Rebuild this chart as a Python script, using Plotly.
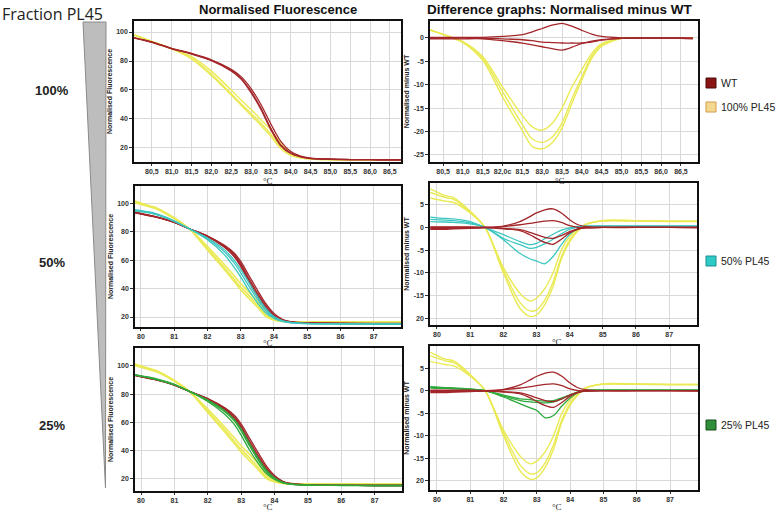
import plotly.graph_objects as go

W, H = 778, 513

# temperature grids (°C)
t_top = [80.05, 80.5, 81.0, 81.5, 82.0, 82.5, 82.75, 83.0, 83.25, 83.5,
         83.75, 84.0, 84.25, 84.5, 85.0, 85.5, 86.0, 86.5, 86.8]
t_low = [79.8, 80.25, 80.5, 81.0, 81.45, 82.0, 82.5, 82.8, 83.0, 83.25,
         83.5, 83.75, 84.0, 84.25, 84.5, 85.0, 86.0, 87.0, 87.85]

# --- top row: WT vs 100% PL45 ---
wt_top = [
    [96.0, 93.0, 88.5, 85.0, 80.5, 73.5, 68.0, 59.0, 47.5, 33.5, 22.0, 16.5, 14.0, 12.8, 12.2, 12.0, 11.9, 11.8, 11.8],
    [96.2, 93.2, 88.7, 85.2, 80.8, 74.2, 69.2, 61.0, 50.0, 36.5, 24.5, 17.5, 14.4, 13.0, 12.3, 12.0, 11.9, 11.8, 11.8],
    [95.8, 92.9, 88.4, 84.8, 80.3, 73.2, 67.6, 58.2, 46.5, 32.5, 21.5, 16.2, 13.9, 12.7, 12.2, 12.0, 11.9, 11.8, 11.8],
]
pl100_top = [
    [98.0, 93.5, 88.6, 83.0, 73.0, 60.0, 53.0, 46.5, 39.5, 32.5, 23.0, 16.5, 13.8, 12.6, 12.0, 11.8, 11.7, 11.6, 11.6],
    [98.2, 93.6, 88.4, 82.0, 71.0, 57.5, 50.5, 44.0, 37.0, 29.5, 21.0, 15.5, 13.3, 12.4, 12.0, 11.8, 11.7, 11.6, 11.6],
    [97.8, 93.3, 88.3, 81.5, 70.0, 56.5, 49.5, 42.5, 35.5, 28.0, 19.5, 14.8, 13.0, 12.3, 11.9, 11.7, 11.6, 11.6, 11.6],
]
wt_top_diff = [
    [0.1, 0.1, 0.1, 0.1, 0.3, 0.7, 1.3, 2.0, 2.7, 3.1, 2.5, 1.6, 0.8, 0.3, 0.0, 0.0, 0.0, 0.0, 0.0],
    [-0.2, -0.2, -0.2, -0.2, -0.6, -1.1, -1.5, -1.9, -2.3, -2.6, -2.0, -1.2, -0.7, -0.4, -0.1, -0.1, -0.1, -0.1, -0.2],
    [-0.1, -0.1, 0.0, -0.1, -0.2, -0.4, -0.6, -0.9, -1.0, -1.1, -1.1, -1.1, -0.9, -0.5, -0.1, 0.0, 0.0, 0.0, -0.1],
]
pl100_top_diff = [
    [2.0, 0.8, -0.8, -4.0, -10.5, -16.6, -19.0, -19.7, -18.3, -15.0, -10.5, -6.8, -3.3, -1.2, -0.1, 0.0, 0.0, 0.0, 0.0],
    [2.0, 0.7, -0.9, -4.4, -11.5, -18.5, -21.6, -22.3, -21.2, -18.2, -13.0, -8.3, -3.9, -1.5, -0.1, 0.0, 0.0, 0.0, 0.0],
    [2.0, 0.7, -1.0, -4.8, -12.6, -19.8, -23.2, -23.7, -22.4, -19.2, -14.0, -9.0, -4.4, -1.8, -0.1, 0.0, 0.0, 0.0, 0.0],
]

# --- middle / bottom rows: WT and 100% PL45 controls ---
wt_low = [
    [93.5, 91.3, 90.0, 86.5, 82.0, 76.8, 70.0, 64.0, 57.5, 47.0, 37.0, 28.0, 21.5, 18.0, 16.6, 15.8, 15.5, 15.4, 15.4],
    [93.3, 91.1, 89.8, 86.4, 82.0, 76.5, 69.2, 62.5, 55.5, 44.5, 34.5, 26.0, 20.5, 17.6, 16.4, 15.7, 15.5, 15.4, 15.4],
    [93.7, 91.5, 90.1, 86.6, 82.0, 76.9, 70.5, 65.0, 59.0, 49.0, 39.0, 29.5, 22.5, 18.4, 16.8, 15.9, 15.6, 15.5, 15.5],
    [93.4, 91.2, 89.9, 86.5, 82.0, 76.6, 69.5, 63.0, 56.5, 45.5, 35.5, 27.0, 21.0, 17.8, 16.5, 15.8, 15.5, 15.4, 15.4],
]
pl100_low = [
    [101.5, 98.2, 96.3, 89.7, 82.0, 69.5, 57.0, 49.0, 43.5, 37.5, 31.0, 23.0, 18.8, 17.3, 16.7, 16.5, 16.4, 16.4, 16.4],
    [101.0, 97.8, 95.9, 89.4, 82.0, 68.0, 55.0, 46.5, 41.0, 35.0, 28.5, 21.5, 18.2, 17.0, 16.6, 16.4, 16.4, 16.3, 16.3],
    [100.4, 97.4, 95.5, 89.1, 82.0, 67.0, 53.5, 45.0, 39.0, 33.0, 27.0, 20.5, 17.8, 16.9, 16.5, 16.4, 16.3, 16.3, 16.3],
]
wt_low_diff = [
    [0.0, 0.0, 0.0, 0.0, 0.0, 0.3, 1.3, 2.4, 3.2, 3.9, 4.1, 3.2, 1.7, 0.6, 0.2, 0.0, 0.0, 0.0, 0.0],
    [0.1, 0.1, 0.1, 0.1, 0.0, 0.2, 0.6, 0.9, 1.1, 1.4, 1.5, 1.1, 0.4, 0.0, -0.1, 0.0, 0.0, 0.0, 0.0],
    [-0.2, -0.2, -0.2, -0.1, 0.0, -0.2, -0.5, -1.1, -1.6, -2.2, -2.4, -1.8, -0.9, -0.3, 0.0, 0.0, 0.0, 0.0, 0.0],
    [-0.4, -0.4, -0.3, -0.2, -0.1, -0.3, -0.7, -1.6, -2.4, -3.3, -3.7, -2.6, -1.2, -0.4, -0.1, 0.0, 0.0, 0.0, -0.1],
]
pl100_low_diff = [
    [8.5, 7.0, 6.6, 3.6, 0.0, -8.8, -14.5, -16.2, -15.6, -13.5, -10.0, -5.0, -2.0, -0.3, 0.8, 1.4, 1.4, 1.3, 1.3],
    [7.7, 6.6, 6.2, 3.4, 0.0, -9.4, -16.5, -18.4, -18.2, -16.0, -12.0, -6.5, -2.8, -0.6, 0.7, 1.5, 1.5, 1.4, 1.4],
    [6.5, 5.8, 5.5, 3.2, 0.0, -10.0, -17.8, -19.6, -19.3, -17.0, -13.0, -7.0, -3.2, -0.8, 0.6, 1.5, 1.5, 1.4, 1.4],
]

# --- 50% PL45 ---
pl50 = [
    [95.5, 93.8, 92.2, 87.6, 82.0, 75.5, 67.5, 60.0, 53.5, 44.0, 34.5, 26.0, 20.3, 17.5, 16.3, 15.5, 15.2, 15.2, 15.2],
    [95.0, 93.4, 91.9, 87.4, 82.0, 75.0, 66.0, 58.0, 51.0, 41.5, 32.5, 24.5, 19.6, 17.2, 16.1, 15.4, 15.2, 15.1, 15.1],
    [94.6, 93.1, 91.6, 87.2, 82.0, 74.2, 64.0, 55.0, 48.0, 38.5, 30.0, 23.0, 19.0, 16.9, 16.0, 15.3, 15.1, 15.0, 15.0],
]
pl50_diff = [
    [2.3, 2.0, 1.9, 1.3, 0.0, -1.6, -3.1, -3.8, -3.5, -2.5, -1.5, -0.6, -0.1, 0.2, 0.3, 0.3, 0.3, 0.3, 0.3],
    [1.8, 1.6, 1.5, 1.0, 0.0, -2.4, -3.8, -4.6, -4.4, -3.6, -2.6, -1.4, -0.4, 0.1, 0.3, 0.3, 0.3, 0.3, 0.3],
    [1.3, 1.2, 1.1, 0.8, 0.0, -2.7, -5.7, -6.9, -7.4, -8.0, -6.4, -3.8, -1.5, -0.2, 0.2, 0.3, 0.3, 0.3, 0.3],
]

# --- 25% PL45 ---
pl25 = [
    [94.0, 92.0, 90.6, 86.9, 82.0, 75.8, 68.5, 62.0, 55.5, 45.0, 35.0, 26.5, 20.8, 17.7, 16.4, 15.7, 15.5, 15.4, 15.4],
    [93.8, 91.8, 90.4, 86.8, 82.0, 75.5, 67.8, 61.0, 54.0, 43.5, 33.8, 25.5, 20.3, 17.5, 16.3, 15.7, 15.5, 15.4, 15.4],
    [93.6, 91.6, 90.2, 86.7, 82.0, 74.8, 66.0, 58.5, 51.0, 40.5, 31.5, 24.0, 19.6, 17.2, 16.2, 15.6, 15.4, 15.3, 15.3],
]
pl25_diff = [
    [0.9, 0.7, 0.6, 0.4, 0.0, -1.0, -1.8, -2.0, -2.2, -2.3, -2.2, -1.6, -0.9, -0.2, 0.1, 0.1, 0.1, 0.1, 0.1],
    [0.8, 0.6, 0.5, 0.3, 0.0, -1.2, -2.2, -2.5, -2.6, -2.7, -2.5, -1.8, -1.0, -0.3, 0.1, 0.1, 0.1, 0.1, 0.1],
    [0.6, 0.5, 0.4, 0.3, 0.0, -1.4, -2.9, -3.8, -4.4, -6.0, -5.5, -3.4, -1.6, -0.4, 0.0, 0.1, 0.1, 0.1, 0.1],
]

# tick labels
top_ticks = [80.5, 81.0, 81.5, 82.0, 82.5, 83.0, 83.5, 84.0, 84.5, 85.0, 85.5, 86.0, 86.5]
top_left_text = ['80,5', '81,0', '81,5', '82,0', '82,5', '83,0', '83,5',
                 '84,0', '84,5', '85,0', '85,5', '86,0', '86,5']
top_right_text = ['80,5', '81,0', '81,5', '82,0c', '81,5', '83,0', '83,5',
                  '84,0', '84,5', '85,0', '85,5', '86,0', '86,5']
low_ticks = [80, 81, 82, 83, 84, 85, 86, 87]
fluo_ticks = [20, 40, 60, 80, 100]
diff_top_ticks = [0, -5, -10, -15, -20, -25]
diff_low_ticks = [5, 0, -5, -10, -15, -20]
diff_low_text = ['5', '0', '-5', '-10', '-15', '20']

row_labels = ['100%', '50%', '25%']
legend_labels = ['WT', '100% PL45', '50% PL45', '25% PL45']

WT_C = '#a3262a'
Y_C = '#eaea55'
CY_C = '#3cc6c0'
GR_C = '#2ea83a'

TICK_FONT = dict(family='Liberation Sans', size=7, color='#333333', weight='bold')


def pxx(v):
    return v / W


def pxy(v):
    return 1 - v / H


def add_panel(fig, n, box, xr, yr, xt, xtt, yt, ytt, ytitle):
    x0, x1, y0, y1 = box
    sfx = '' if n == 1 else str(n)
    fig.update_layout(**{
        'xaxis' + sfx: dict(domain=[pxx(x0), pxx(x1)], range=xr, anchor='y' + sfx,
                            tickvals=xt, ticktext=xtt, tickfont=TICK_FONT, tickangle=0,
                            ticks='outside', ticklen=2, tickcolor='#333',
                            showgrid=True, gridcolor='#d9d9d9', gridwidth=1,
                            showline=True, mirror=True, linecolor='#111', linewidth=1.5,
                            zeroline=False, automargin=False),
        'yaxis' + sfx: dict(domain=[pxy(y1), pxy(y0)], range=yr, anchor='x' + sfx,
                            tickvals=yt, ticktext=ytt, tickfont=TICK_FONT,
                            ticks='outside', ticklen=3, tickcolor='#333',
                            showgrid=True, gridcolor='#d9d9d9', gridwidth=1,
                            showline=True, mirror=True, linecolor='#111', linewidth=1.5,
                            zeroline=False, automargin=False,
                            title=dict(text=ytitle, standoff=3,
                                       font=dict(family='Liberation Sans', size=7, color='#222', weight='bold'))),
    })


def add_curves(fig, n, t, groups):
    sfx = '' if n == 1 else str(n)
    for curves, color, width in groups:
        for vals in curves:
            fig.add_trace(go.Scatter(x=t, y=vals, mode='lines',
                                     line=dict(color=color, width=width, shape='spline', smoothing=0.8),
                                     xaxis='x' + sfx, yaxis='y' + sfx,
                                     showlegend=False, hoverinfo='skip'))


fig = go.Figure()

left_title = 'Normalised Fluorescence'
right_title = 'Normalised minus WT'

# top row
add_panel(fig, 1, (134, 401, 21, 162), [80.05, 86.78], [10.3, 107.6],
          top_ticks, top_left_text, fluo_ticks, [str(v) for v in fluo_ticks], left_title)
add_curves(fig, 1, t_top, [(pl100_top, Y_C, 1.4), (wt_top, WT_C, 1.3)])

add_panel(fig, 2, (430, 698, 21, 162), [80.17, 86.93], [-26.5, 3.6],
          top_ticks, top_right_text, diff_top_ticks, [str(v) for v in diff_top_ticks], right_title)
add_curves(fig, 2, t_top, [(pl100_top_diff, Y_C, 1.4), (wt_top_diff, WT_C, 1.3)])

# middle row
add_panel(fig, 3, (135, 401, 186, 327), [79.82, 87.82], [13, 112],
          low_ticks, [str(v) for v in low_ticks], fluo_ticks, [str(v) for v in fluo_ticks], left_title)
add_curves(fig, 3, t_low, [(pl100_low, Y_C, 1.6), (wt_low, WT_C, 1.3), (pl50, CY_C, 1.3)])

add_panel(fig, 4, (430, 697, 183, 325), [79.79, 87.84], [-21.5, 9.8],
          low_ticks, [str(v) for v in low_ticks], diff_low_ticks, diff_low_text, right_title)
add_curves(fig, 4, t_low, [(pl100_low_diff, Y_C, 1.4), (pl50_diff, CY_C, 1.3), (wt_low_diff, WT_C, 1.3)])

# bottom row
add_panel(fig, 5, (135, 402, 348, 491), [79.82, 87.82], [11.5, 112.7],
          low_ticks, [str(v) for v in low_ticks], fluo_ticks, [str(v) for v in fluo_ticks], left_title)
add_curves(fig, 5, t_low, [(pl100_low, Y_C, 1.6), (wt_low, WT_C, 1.3), (pl25, GR_C, 1.3)])

add_panel(fig, 6, (430, 698, 346, 490), [79.79, 87.84], [-22, 9.9],
          low_ticks, [str(v) for v in low_ticks], diff_low_ticks, diff_low_text, right_title)
add_curves(fig, 6, t_low, [(pl100_low_diff, Y_C, 1.4), (pl25_diff, GR_C, 1.3), (wt_low_diff, WT_C, 1.3)])

annotations = []
# column titles
annotations.append(dict(x=pxx(278), y=pxy(9), text='<b>Normalised Fluorescence</b>',
                        font=dict(family='Liberation Sans', size=13, color='#111')))
annotations.append(dict(x=pxx(560), y=pxy(9), text='<b>Difference graphs: Normalised minus WT</b>',
                        font=dict(family='Liberation Sans', size=13.5, color='#111')))
# x axis unit labels under each panel
for cx, cy in [(268, 181), (560, 181), (268, 343), (557, 342), (268, 507), (557, 507)]:
    annotations.append(dict(x=pxx(cx), y=pxy(cy), text='°C',
                            font=dict(family='Liberation Serif', size=9, color='#222')))
# left side labels
annotations.append(dict(x=0, y=pxy(14), xanchor='left', text='Fraction PL45',
                        font=dict(family='Open Sans', size=16, color='#222')))
for lab, py in zip(row_labels, [90, 262, 425]):
    annotations.append(dict(x=pxx(52), y=pxy(py), text='<b>' + lab + '</b>',
                            font=dict(family='Liberation Sans', size=13, color='#222')))
# legend labels
for lab, py in zip(legend_labels, [83, 107, 261, 425]):
    annotations.append(dict(x=pxx(719), y=pxy(py), xanchor='left', text=lab,
                            font=dict(family='Liberation Sans', size=10.5, color='#222')))
for a in annotations:
    a.setdefault('xref', 'paper')
    a.setdefault('yref', 'paper')
    a.setdefault('showarrow', False)
    a.setdefault('xanchor', 'center')
    a.setdefault('yanchor', 'middle')

shapes = []
# wedge
shapes.append(dict(type='path', xref='paper', yref='paper',
                   path='M %f,%f L %f,%f L %f,%f Z' % (pxx(83), pxy(22), pxx(106), pxy(22), pxx(105.5), pxy(488)),
                   fillcolor='#bdbdbd', line=dict(color='#8a8a8a', width=1)))
# legend swatches
swatch = [('#8a1414', '#4a0a0a'), ('#f3d98f', '#d49a4a'), ('#2ecac6', '#1a8f8f'), ('#2f8f3a', '#174f1c')]
for (fc, lc), py in zip(swatch, [83, 107, 261, 425]):
    shapes.append(dict(type='rect', xref='paper', yref='paper',
                       x0=pxx(706), x1=pxx(716), y0=pxy(py + 5), y1=pxy(py - 5),
                       fillcolor=fc, line=dict(color=lc, width=1)))

fig.update_layout(width=W, height=H, margin=dict(l=0, r=0, t=0, b=0),
                  paper_bgcolor='white', plot_bgcolor='white',
                  annotations=annotations, shapes=shapes, showlegend=False)

# drop the browser's default body margin so the figure fills the window
fig.write_html('out.html', config={'displayModeBar': False},
               post_script="document.body.style.margin='0';")
